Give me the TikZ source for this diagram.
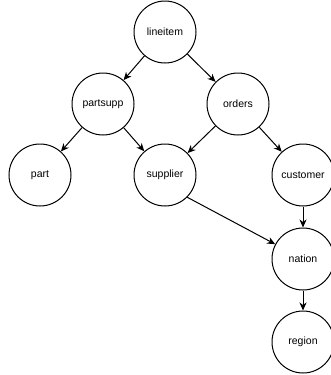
\documentclass[tikz,border=0pt]{standalone}
\usepackage{fontspec}
\setmainfont{Liberation Sans}
\usetikzlibrary{arrows.meta}
\tikzset{
  tbl/.style={circle, draw=black, line width=1pt, minimum size=62pt, inner sep=0pt, font=\fontsize{10.5}{12}\selectfont},
  link/.style={draw=black, line width=1pt, -{Stealth[length=8pt,width=7pt,inset=2.5pt]}}
}
\begin{document}
\begin{tikzpicture}[x=1pt,y=-1pt]
\useasboundingbox (0,0) rectangle (330,375);
\node[tbl] (lineitem) at (165,32) {lineitem};
\node[tbl] (partsupp) at (103,104) {partsupp};
\node[tbl] (orders) at (238,104) {orders};
\node[tbl] (part) at (40,175) {part};
\node[tbl] (supplier) at (165,175) {supplier};
\node[tbl] (customer) at (303,175) {customer};
\node[tbl] (nation) at (303,259) {nation};
\node[tbl] (region) at (303,342) {region};
\draw[link] (lineitem) -- (partsupp);
\draw[link] (lineitem) -- (orders);
\draw[link] (partsupp) -- (part);
\draw[link] (partsupp) -- (supplier);
\draw[link] (orders) -- (supplier);
\draw[link] (orders) -- (customer);
\draw[link] (customer) -- (nation);
\draw[link] (supplier.-45) -- (nation);
\draw[link] (nation) -- (region);
\end{tikzpicture}
\end{document}
